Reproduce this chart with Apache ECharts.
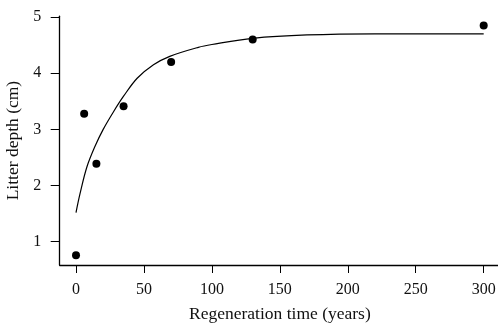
<!DOCTYPE html>
<html>
<head>
<meta charset="utf-8">
<script src="https://cdn.jsdelivr.net/npm/echarts@6/dist/echarts.min.js"></script>
<style>
  html, body { margin: 0; padding: 0; background: #fff; }
  #chart { width: 498px; height: 327px; }
</style>
</head>
<body>
<div id="chart"></div>
<script>
// Observed litter depth by stand regeneration time
const obsYears = [0, 6, 15, 35, 70, 130, 300];
const obsDepth = [0.76, 3.28, 2.39, 3.41, 4.20, 4.60, 4.85];

// Fitted saturation curve, sampled along the time axis
const fitYears = [0, 3, 8, 14, 20, 27.5, 35, 45, 57, 69, 90, 100, 130, 170, 220, 300];
const fitDepth = [1.52, 1.86, 2.33, 2.70, 3.00, 3.31, 3.59, 3.91, 4.15, 4.30, 4.46, 4.51, 4.62, 4.68, 4.70, 4.70];

// Tick labels
const xTicks = [0, 50, 100, 150, 200, 250, 300];
const yTicks = [1, 2, 3, 4, 5];

const font = 'Liberation Serif';
const chart = echarts.init(document.getElementById('chart'), null, { renderer: 'canvas' });

chart.setOption({
  animation: false,
  backgroundColor: '#ffffff',
  grid: {
    left: 59.7, right: -2, top: 16.2, bottom: 62,
    containLabel: false,
    outerBoundsMode: 'none'
  },
  xAxis: {
    type: 'value',
    min: -12,
    max: 312,
    name: 'Regeneration time (years)',
    nameLocation: 'middle',
    nameGap: 40,
    nameTextStyle: { fontFamily: font, fontSize: 17.5, color: '#111' },
    axisLine: { show: true, onZero: false, lineStyle: { color: '#000', width: 1.3 } },
    axisTick: { show: true, length: 8, customValues: xTicks, lineStyle: { color: '#000', width: 1 } },
    axisLabel: { customValues: xTicks, margin: 17, fontFamily: font, fontSize: 16, color: '#111' },
    splitLine: { show: false }
  },
  yAxis: {
    type: 'value',
    min: 0.586,
    max: 5.014,
    name: 'Litter depth (cm)',
    nameLocation: 'middle',
    nameGap: 31,
    nameRotate: 90,
    nameTextStyle: { fontFamily: font, fontSize: 17.5, color: '#111' },
    axisLine: { show: true, onZero: false, lineStyle: { color: '#000', width: 1.3 } },
    axisTick: { show: true, length: 9, customValues: yTicks, lineStyle: { color: '#000', width: 1 } },
    axisLabel: { customValues: yTicks, margin: 18.5, fontFamily: font, fontSize: 16, color: '#111' },
    splitLine: { show: false }
  },
  series: [
    {
      type: 'line',
      data: fitYears.map((t, i) => [t, fitDepth[i]]),
      smooth: 0.35,
      showSymbol: false,
      lineStyle: { color: '#000', width: 1.2 },
      z: 2
    },
    {
      type: 'scatter',
      data: obsYears.map((t, i) => [t, obsDepth[i]]),
      symbol: 'circle',
      symbolSize: 8,
      itemStyle: { color: '#000', opacity: 1 },
      z: 3
    }
  ]
});
</script>
</body>
</html>
